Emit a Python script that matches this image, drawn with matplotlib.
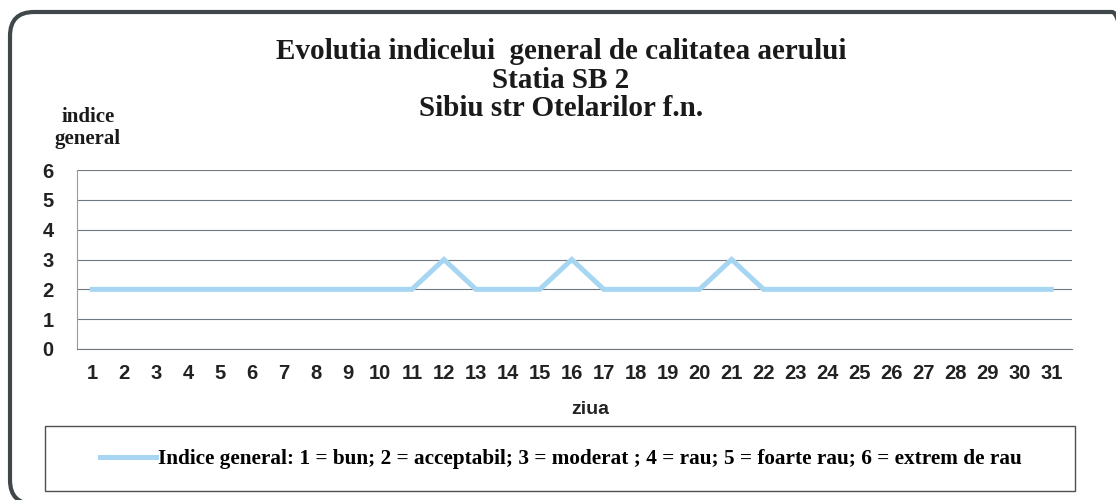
import matplotlib.pyplot as plt
from matplotlib.patches import FancyBboxPatch, Rectangle
from matplotlib.transforms import IdentityTransform

zile = list(range(1, 32))
indice = [2, 2, 2, 2, 2, 2, 2, 2, 2, 2, 2, 3, 2, 2, 2, 3, 2, 2, 2, 2,
          3, 2, 2, 2, 2, 2, 2, 2, 2, 2, 2]
y_ticks = [0, 1, 2, 3, 4, 5, 6]
titlu = ["Evolutia indicelui  general de calitatea aerului",
         "Statia SB 2",
         "Sibiu str Otelarilor f.n."]
legend_text = ("Indice general: 1 = bun; 2 = acceptabil; 3 = moderat ; "
               "4 = rau; 5 = foarte rau; 6 = extrem de rau")

plt.rcParams["font.family"] = "Liberation Sans"
plt.rcParams["font.weight"] = "bold"

W, H = 1116, 500
fig = plt.figure(figsize=(W / 100, H / 100), dpi=100)

# outer rounded frame, in pixels (right and bottom edges run off the picture)
frame = FancyBboxPatch((10, -4), 1126, H - 12 + 4,
                       boxstyle="round,pad=0,rounding_size=24",
                       transform=IdentityTransform(), fill=False,
                       edgecolor="#3f474b", linewidth=3.0)
fig.patches.append(frame)

ax = fig.add_axes([77 / W, 1 - 349 / H, (1072 - 77) / W, (349 - 170) / H])
ax.plot(zile, indice, color="#a6d6f2", linewidth=3.6, solid_joinstyle="miter",
        label=legend_text, zorder=3)

ax.set_xlim(0.52, 31.65)
ax.set_ylim(0, 6)
ax.set_yticks(y_ticks)
ax.set_xticks(zile)
ax.grid(axis="y", color="#707880", linewidth=0.8)
ax.set_axisbelow(True)
for s in ["top", "right"]:
    ax.spines[s].set_visible(False)
ax.spines["left"].set_color("#9a9a9a")
ax.spines["bottom"].set_color("#707880")
ax.tick_params(length=0, labelcolor="#222222", labelsize=14.5)
ax.tick_params(axis="y", pad=17)
ax.tick_params(axis="x", pad=11)

fig.text(590 / W, 1 - 410 / H, "ziua", ha="center", va="center",
         fontsize=14, color="#222222")

for i, line in enumerate(titlu):
    fig.text(561 / W, 1 - (59 + 28.5 * i) / H, line, ha="center", va="baseline",
             fontfamily="Liberation Serif", fontsize=21, color="#1a1a1a")
fig.text(88 / W, 1 - 122 / H, "indice", ha="center", va="baseline",
         fontfamily="Liberation Serif", fontsize=15, color="#1a1a1a")
fig.text(88 / W, 1 - 144 / H, "general", ha="center", va="baseline",
         fontfamily="Liberation Serif", fontsize=15, color="#1a1a1a")

# legend box
box = Rectangle((45 / W, 1 - 491 / H), (1075 - 45) / W, (491 - 426) / H,
                transform=fig.transFigure, fill=False, edgecolor="#505050",
                linewidth=1.0)
fig.patches.append(box)
leg = fig.legend(loc="center", bbox_to_anchor=(561 / W, 1 - 459 / H),
                 frameon=False, handlelength=2.6, handletextpad=0.1,
                 prop={"family": "Liberation Serif", "weight": "bold", "size": 15.3})

fig.savefig("out.png", dpi=100)
